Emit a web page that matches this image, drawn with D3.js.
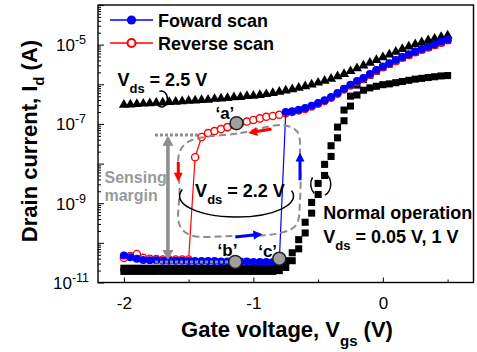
<!DOCTYPE html>
<html>
<head>
<meta charset="utf-8">
<script src="https://cdn.jsdelivr.net/npm/d3@7"></script>
<style>
  html, body { margin: 0; padding: 0; background: #fff; }
  svg { display: block; font-family: "Liberation Sans", Arial, Helvetica, sans-serif; }
</style>
</head>
<body>
<svg id="chart" width="477" height="352"></svg>
<script>
// gate voltage sweep, V
const vgs = [-2.00, -1.95, -1.90, -1.85, -1.80, -1.75, -1.70, -1.65, -1.60, -1.55,
  -1.50, -1.45, -1.40, -1.35, -1.30, -1.25, -1.20, -1.15, -1.10, -1.05,
  -1.00, -0.95, -0.90, -0.85, -0.80, -0.75, -0.70, -0.65, -0.60, -0.55,
  -0.50, -0.45, -0.40, -0.35, -0.30, -0.25, -0.20, -0.15, -0.10, -0.05,
  0.00, 0.05, 0.10, 0.15, 0.20, 0.25, 0.30, 0.35, 0.40, 0.45, 0.50];

// log10(Id), one value per vgs
const normal005LogId = [-10.72, -10.72, -10.72, -10.72, -10.72, -10.72, -10.72, -10.72, -10.72, -10.72,
  -10.72, -10.72, -10.72, -10.72, -10.72, -10.72, -10.72, -10.72, -10.72, -10.72,
  -10.72, -10.72, -10.72, -10.72, -10.70, -10.62, -10.45, -10.15, -9.75, -9.25,
  -8.78, -8.30, -7.82, -7.35, -6.92, -6.55, -6.27, -6.15, -6.09, -6.05,
  -6.01, -5.99, -5.96, -5.93, -5.90, -5.87, -5.85, -5.83, -5.81, -5.79, -5.78];

const normal1LogId = [-10.64, -10.64, -10.64, -10.64, -10.64, -10.64, -10.64, -10.64, -10.64, -10.64,
  -10.64, -10.64, -10.64, -10.64, -10.64, -10.64, -10.64, -10.64, -10.64, -10.64,
  -10.64, -10.64, -10.64, -10.64, -10.58, -10.45, -10.25, -9.92, -9.48, -8.98,
  -8.50, -8.02, -7.55, -7.08, -6.65, -6.30, -6.02, -5.88, -5.77, -5.67,
  -5.57, -5.49, -5.41, -5.33, -5.26, -5.19, -5.13, -5.07, -5.01, -4.95, -4.89];

const vds25LogId = [-6.52, -6.51, -6.50, -6.49, -6.48, -6.47, -6.46, -6.45, -6.44, -6.43,
  -6.42, -6.41, -6.40, -6.39, -6.37, -6.36, -6.35, -6.33, -6.32, -6.30,
  -6.29, -6.27, -6.25, -6.22, -6.19, -6.16, -6.13, -6.09, -6.05, -6.01,
  -5.96, -5.91, -5.86, -5.80, -5.74, -5.67, -5.60, -5.53, -5.46, -5.39,
  -5.32, -5.25, -5.18, -5.11, -5.05, -4.99, -4.94, -4.89, -4.85, -4.81, -4.77];

const reverseLogId = [-10.38, -10.33, -10.28, -10.38, -10.40, -10.41, -10.42, -10.42, -10.42, -10.42,
  -10.42, -7.84, -7.33, -7.23, -7.18, -7.13, -7.08, -7.03, -6.97, -6.94,
  -6.90, -6.86, -6.82, -6.80, -6.77, -6.73, -6.70, -6.66, -6.62, -6.56,
  -6.49, -6.42, -6.34, -6.24, -6.13, -6.03, -5.94, -5.86, -5.76, -5.66,
  -5.57, -5.49, -5.41, -5.33, -5.26, -5.19, -5.13, -5.07, -5.01, -4.95, -4.89];

const forwardLogId = [-10.32, -10.36, -10.40, -10.43, -10.44, -10.44, -10.45, -10.45, -10.45, -10.45,
  -10.46, -10.46, -10.46, -10.46, -10.46, -10.47, -10.47, -10.47, -10.47, -10.47,
  -10.48, -10.48, -10.48, -10.48, -10.48, -6.70, -6.68, -6.64, -6.60, -6.54,
  -6.47, -6.40, -6.32, -6.22, -6.11, -6.01, -5.92, -5.84, -5.74, -5.64,
  -5.55, -5.47, -5.39, -5.31, -5.24, -5.17, -5.11, -5.05, -4.99, -4.93, -4.87];

// axis ticks
const xMajorTicks = [-2, -1, 0];
const xMinorTicks = [-1.5, -0.5, 0.5];
const yDecades = [-11, -10, -9, -8, -7, -6, -5, -4];
const yLabelExps = [-11, -9, -7, -5];

// read points 'a', 'b', 'c' (vgs, log10 Id) and their label anchors
const readPoints = [
  { label: "\u2018a\u2019", v: -1.13, l: -6.98, tv: -1.22, tl: -6.88 },
  { label: "\u2018b\u2019", v: -1.14, l: -10.48, tv: -1.20, tl: -10.33 },
  { label: "\u2018c\u2019", v: -0.80, l: -10.40, tv: -0.89, tl: -10.36 },
];

// hysteresis loop guide (vgs, log10 Id)
const loopPath = [[-1.49, -7.43], [-1.10, -7.23], [-0.77, -7.03], [-0.66, -7.20], [-0.64, -7.91],
  [-0.64, -8.92], [-0.67, -9.55], [-0.79, -9.75], [-1.18, -9.83], [-1.49, -9.80],
  [-1.57, -9.55], [-1.57, -8.67], [-1.57, -7.71]];

const svg = d3.select("#chart");
const x = d3.scaleLinear().domain([-2.2, 0.7]).range([98, 473.5]);
const y = d3.scaleLog().domain([1e-11, 1e-4]).range([282.5, 5]);
const X = (v) => x(v);
const Y = (l) => y(Math.pow(10, l));

svg.append("rect").attr("width", 477).attr("height", 352).attr("fill", "#fff");

// ---- axes ----
const xAxisG = svg.append("g").attr("transform", `translate(0,${y.range()[0]})`);
xAxisG.call(d3.axisBottom(x).tickValues(xMajorTicks).tickSize(-5).tickPadding(14)
  .tickFormat((d) => String(d)));
xAxisG.selectAll("text").attr("font-size", 17).attr("fill", "#000").attr("font-family", null);
xAxisG.call((g) => g.select(".domain").remove());
const xMinorG = svg.append("g").attr("transform", `translate(0,${y.range()[0]})`);
xMinorG.call(d3.axisBottom(x).tickValues(xMinorTicks).tickSize(-3).tickFormat(""));
xMinorG.call((g) => g.select(".domain").remove());

const yMinor = [];
yDecades.slice(0, -1).forEach((e) => {
  for (let k = 2; k <= 9; k++) yMinor.push(k * Math.pow(10, e));
});
const yAxisG = svg.append("g").attr("transform", `translate(${x.range()[0]},0)`);
yAxisG.call(d3.axisLeft(y).tickValues(yDecades.map((e) => Math.pow(10, e))).tickSize(-6).tickFormat(""));
yAxisG.call((g) => g.select(".domain").remove());
const yMinorG = svg.append("g").attr("transform", `translate(${x.range()[0]},0)`);
yMinorG.call(d3.axisLeft(y).tickValues(yMinor).tickSize(-3).tickFormat(""));
yMinorG.call((g) => g.select(".domain").remove());
svg.selectAll(".tick line").attr("stroke", "#000").attr("stroke-width", 1);

svg.append("g").selectAll("text").data(yLabelExps).join("text")
  .attr("x", 71).attr("y", (d) => Y(d) + 6.5)
  .attr("text-anchor", "middle").attr("font-size", 17)
  .each(function (d) {
    const t = d3.select(this);
    t.append("tspan").text("10");
    t.append("tspan").attr("dy", -7).attr("font-size", 12.5).text(String(d));
  });

svg.append("rect")
  .attr("x", x.range()[0]).attr("y", y.range()[1])
  .attr("width", x.range()[1] - x.range()[0]).attr("height", y.range()[0] - y.range()[1])
  .attr("fill", "none").attr("stroke", "#000").attr("stroke-width", 1.4);

// text with subscripts: parts = [[text, isSub], ...]
function richText(sel, parts, subSize, shift) {
  let wasSub = false;
  parts.forEach(([t, sub]) => {
    const ts = sel.append("tspan").text(t);
    if (sub) ts.attr("font-size", subSize).attr("dy", shift);
    else if (wasSub) ts.attr("dy", -shift);
    wasSub = sub;
  });
  return sel;
}

// axis titles
richText(svg.append("text").attr("x", 287).attr("y", 337).attr("text-anchor", "middle")
  .attr("font-size", 22).attr("font-weight", "bold"),
  [["Gate voltage, V", false], ["gs", true], [" (V)", false]], 15, 9);
richText(svg.append("text").attr("transform", "translate(36.5,141) rotate(-90)")
  .attr("text-anchor", "middle").attr("font-size", 22).attr("font-weight", "bold"),
  [["Drain current, I", false], ["d", true], [" (A)", false]], 15, 7);

// ---- data ----
const pts = (arr) => vgs.map((v, i) => [v, arr[i]]);
const line = d3.line().x((d) => X(d[0])).y((d) => Y(d[1]));

function drawSymbols(arr, type, size, fill) {
  svg.append("g").selectAll("path").data(pts(arr)).join("path")
    .attr("transform", (d) => `translate(${X(d[0])},${Y(d[1])})`)
    .attr("d", d3.symbol(type, size))
    .attr("fill", fill);
}

drawSymbols(normal1LogId, d3.symbolSquare, 50, "#000");
drawSymbols(normal005LogId, d3.symbolSquare, 50, "#000");
drawSymbols(vds25LogId, d3.symbolTriangle, 44, "#000");

svg.append("path").datum(pts(reverseLogId)).attr("d", line)
  .attr("fill", "none").attr("stroke", "#ff0000").attr("stroke-width", 1.2);
svg.append("g").selectAll("circle").data(pts(reverseLogId)).join("circle")
  .attr("cx", (d) => X(d[0])).attr("cy", (d) => Y(d[1])).attr("r", 3.6)
  .attr("fill", "#fff").attr("stroke", "#ff0000").attr("stroke-width", 1.4);

svg.append("path").datum(pts(forwardLogId)).attr("d", line)
  .attr("fill", "none").attr("stroke", "#0000ff").attr("stroke-width", 1.2);
svg.append("g").selectAll("circle").data(pts(forwardLogId)).join("circle")
  .attr("cx", (d) => X(d[0])).attr("cy", (d) => Y(d[1])).attr("r", 4)
  .attr("fill", "#0000ff");

// ---- annotations ----
const gray = "#8c8c8c";

svg.append("path").datum(loopPath)
  .attr("d", d3.line().x((d) => X(d[0])).y((d) => Y(d[1])).curve(d3.curveCatmullRomClosed.alpha(0.5)))
  .attr("fill", "none").attr("stroke", gray).attr("stroke-width", 2).attr("stroke-dasharray", "7,4");

function arrow(p1, p2, color, width, headLen, headW, both) {
  const x1 = X(p1[0]), y1 = Y(p1[1]), x2 = X(p2[0]), y2 = Y(p2[1]);
  const a = Math.atan2(y2 - y1, x2 - x1);
  const ux = Math.cos(a), uy = Math.sin(a);
  const head = (tx, ty, dx, dy) => {
    const bx = tx - dx * headLen, by = ty - dy * headLen;
    return [[tx, ty], [bx - dy * headW / 2, by + dx * headW / 2], [bx + dy * headW / 2, by - dx * headW / 2]];
  };
  const g = svg.append("g");
  g.append("line")
    .attr("x1", both ? x1 + ux * headLen * 0.8 : x1).attr("y1", both ? y1 + uy * headLen * 0.8 : y1)
    .attr("x2", x2 - ux * headLen * 0.8).attr("y2", y2 - uy * headLen * 0.8)
    .attr("stroke", color).attr("stroke-width", width);
  g.append("polygon").attr("points", head(x2, y2, ux, uy).join(" ")).attr("fill", color);
  if (both) g.append("polygon").attr("points", head(x1, y1, -ux, -uy).join(" ")).attr("fill", color);
}

arrow([-0.86, -7.13], [-1.04, -7.23], "#ff0000", 3, 9, 9);
arrow([-1.58, -7.96], [-1.58, -8.46], "#ff0000", 3, 9, 9);
arrow([-1.14, -9.85], [-0.93, -9.78], "#0000ff", 3, 9, 9);
arrow([-0.64, -8.42], [-0.64, -7.72], "#0000ff", 3, 9, 9);

// sensing margin
svg.append("line").attr("x1", X(-1.76)).attr("x2", X(-1.41)).attr("y1", Y(-7.28)).attr("y2", Y(-7.28))
  .attr("stroke", gray).attr("stroke-width", 3).attr("stroke-dasharray", "3,2");
svg.append("line").attr("x1", X(-1.76)).attr("x2", X(-1.18)).attr("y1", Y(-10.48)).attr("y2", Y(-10.48))
  .attr("stroke", gray).attr("stroke-width", 3).attr("stroke-dasharray", "3,2");
arrow([-1.66, -7.30], [-1.66, -10.43], gray, 3.5, 10, 11, true);
svg.append("text").attr("x", X(-2.15)).attr("y", Y(-8.49)).attr("font-size", 16)
  .attr("font-weight", "bold").attr("fill", "#999").text("Sensing");
svg.append("text").attr("x", X(-2.15)).attr("y", Y(-8.94)).attr("font-size", 16)
  .attr("font-weight", "bold").attr("fill", "#999").text("margin");

// read points
svg.append("g").selectAll("circle").data(readPoints).join("circle")
  .attr("cx", (d) => X(d.v)).attr("cy", (d) => Y(d.l)).attr("r", 6.5)
  .attr("fill", "#a0a0a0").attr("stroke", "#222").attr("stroke-width", 1.5);
svg.append("g").selectAll("text").data(readPoints).join("text")
  .attr("x", (d) => X(d.tv)).attr("y", (d) => Y(d.tl)).attr("text-anchor", "middle")
  .attr("font-size", 17).attr("font-weight", "bold").text((d) => d.label);

// curly brackets marking the curves
function ellArc(cv, cl, rx, ry, a0, a1, sweep) {
  const cx = X(cv), cy = Y(cl);
  const p = (a) => [cx + rx * Math.cos(a * Math.PI / 180), cy + ry * Math.sin(a * Math.PI / 180)];
  const s = p(a0), e = p(a1);
  const large = Math.abs(a1 - a0) > 180 ? 1 : 0;
  svg.append("path").attr("d", `M${s}A${rx},${ry} 0 ${large} ${sweep} ${e}`)
    .attr("fill", "none").attr("stroke", "#000").attr("stroke-width", 1.5);
}
ellArc(-1.13, -8.82, 57, 21, 198, -15, 0);
ellArc(-1.71, -6.37, 6, 8, -110, 125, 1);
ellArc(-0.48, -8.52, 10, 12, 215, 130, 0);
ellArc(-0.48, -8.52, 10, 12, -60, 65, 1);

// labels
const bold = (sel) => sel.attr("font-weight", "bold").attr("font-size", 18);
richText(bold(svg.append("text").attr("x", X(-2.05)).attr("y", Y(-6.04))),
  [["V", false], ["ds", true], [" = 2.5 V", false]], 13, 7);
richText(bold(svg.append("text").attr("x", X(-1.45)).attr("y", Y(-8.84))),
  [["V", false], ["ds", true], [" = 2.2 V", false]], 13, 7);
bold(svg.append("text").attr("x", X(-0.46)).attr("y", Y(-9.40))).text("Normal operation");
richText(bold(svg.append("text").attr("x", X(-0.46)).attr("y", Y(-10.0))),
  [["V", false], ["ds", true], [" = 0.05 V, 1 V", false]], 13, 7);

// legend
const legend = [
  { name: "Foward scan", color: "#0000ff", open: false, y: 20 },
  { name: "Reverse scan", color: "#ff0000", open: true, y: 43 },
];
const lg = svg.append("g").selectAll("g").data(legend).join("g")
  .attr("transform", (d) => `translate(110,${d.y})`);
lg.append("line").attr("x1", 0).attr("x2", 43).attr("stroke", (d) => d.color).attr("stroke-width", 1.5);
lg.append("circle").attr("cx", 21.5).attr("r", (d) => (d.open ? 4 : 4.6))
  .attr("fill", (d) => (d.open ? "#fff" : d.color))
  .attr("stroke", (d) => d.color).attr("stroke-width", (d) => (d.open ? 2 : 0));
lg.append("text").attr("x", 48).attr("y", 6.5).attr("font-size", 18).attr("font-weight", "bold")
  .text((d) => d.name);
</script>
</body>
</html>
